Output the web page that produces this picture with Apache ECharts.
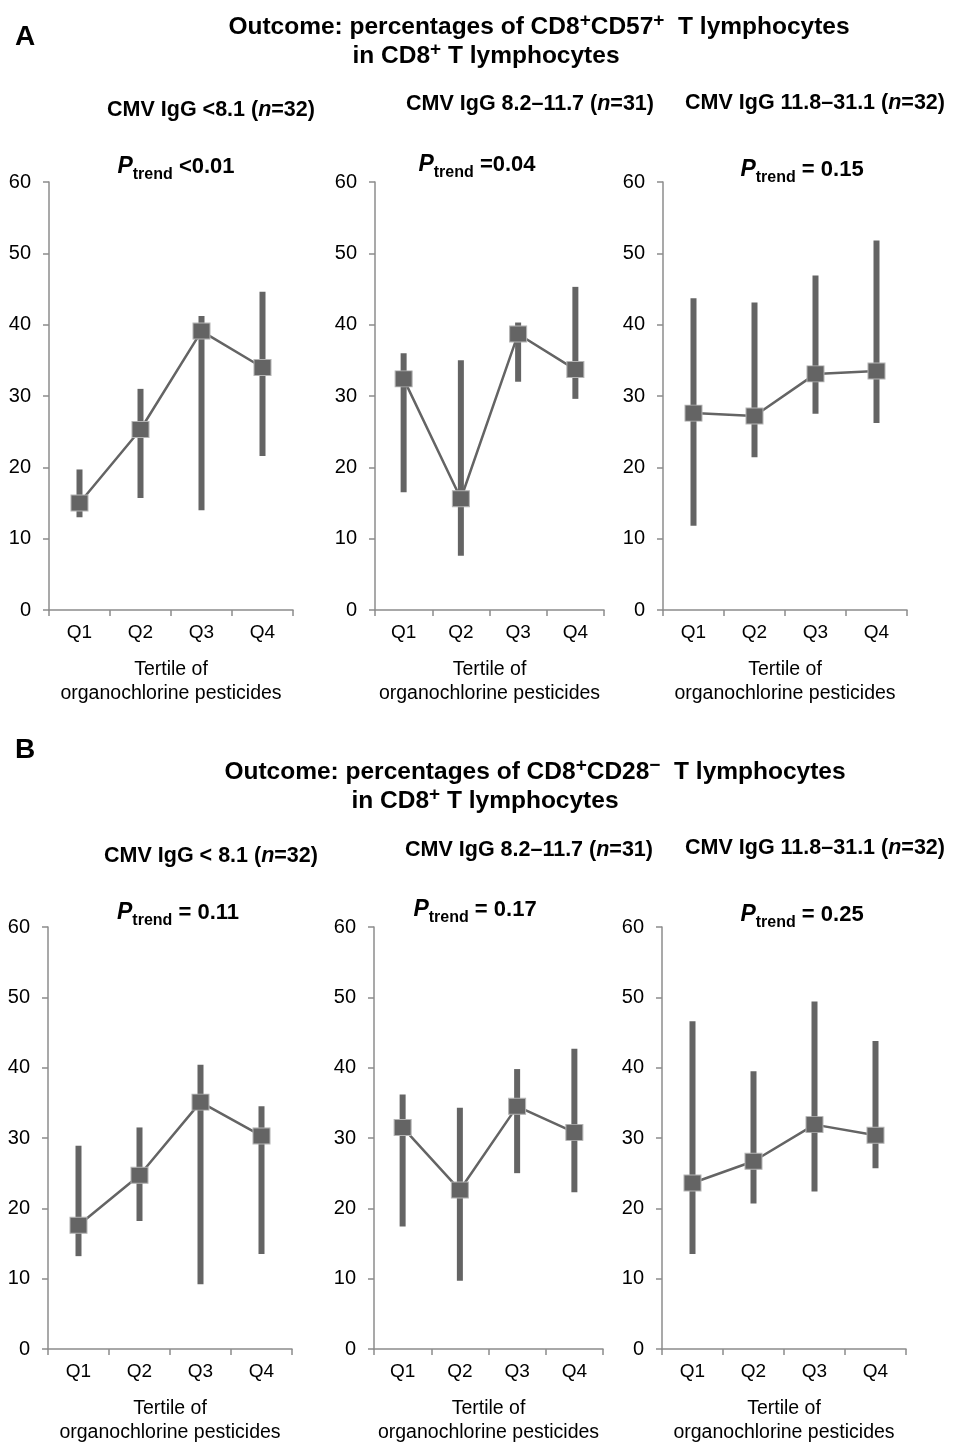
<!DOCTYPE html>
<html style="height: 100%">
<head>
<meta charset="utf-8">
</head>
<body style="height: 100%; margin: 0; background: #fff">
	<div id="container" style="width: 953px; height: 1446px"></div>
	<script type="text/javascript" src="https://cdn.jsdelivr.net/npm/echarts/dist/echarts.min.js"></script>
	<script type="text/javascript">
		// categories and tick range
		var categories = [ 'Q1', 'Q2', 'Q3', 'Q4' ];
		var yMin = 0, yMax = 60, yStep = 10;

		// panel A: CD8+CD57+ (mean, lower, upper)
		var a1Mean = [ 15.0, 25.3, 39.1, 34.0 ];
		var a1Low = [ 13.0, 15.7, 14.0, 21.6 ];
		var a1High = [ 19.7, 31.0, 41.2, 44.6 ];
		var a2Mean = [ 32.4, 15.6, 38.7, 33.7 ];
		var a2Low = [ 16.5, 7.6, 32.0, 29.6 ];
		var a2High = [ 36.0, 35.0, 40.3, 45.3 ];
		var a3Mean = [ 27.6, 27.2, 33.1, 33.5 ];
		var a3Low = [ 11.8, 21.4, 27.5, 26.2 ];
		var a3High = [ 43.7, 43.1, 46.9, 51.8 ];

		// panel B: CD8+CD28-
		var b1Mean = [ 17.6, 24.7, 35.1, 30.3 ];
		var b1Low = [ 13.2, 18.2, 9.2, 13.5 ];
		var b1High = [ 28.9, 31.5, 40.4, 34.5 ];
		var b2Mean = [ 31.5, 22.6, 34.5, 30.8 ];
		var b2Low = [ 17.4, 9.7, 25.0, 22.3 ];
		var b2High = [ 36.2, 34.3, 39.8, 42.7 ];
		var b3Mean = [ 23.6, 26.7, 31.9, 30.4 ];
		var b3Low = [ 13.5, 20.7, 22.4, 25.7 ];
		var b3High = [ 46.6, 39.5, 49.4, 43.8 ];

		var FONT = 'Liberation Sans, Arial, sans-serif';
		var INK = '#646464';
		var AXIS = '#8c8c8c';

		var panels = [
			{ mean: a1Mean, low: a1Low, high: a1High, left: 49, top: 182, width: 244 },
			{ mean: a2Mean, low: a2Low, high: a2High, left: 375, top: 182, width: 229 },
			{ mean: a3Mean, low: a3Low, high: a3High, left: 663, top: 182, width: 244 },
			{ mean: b1Mean, low: b1Low, high: b1High, left: 48, top: 927, width: 244 },
			{ mean: b2Mean, low: b2Low, high: b2High, left: 374, top: 927, width: 229 },
			{ mean: b3Mean, low: b3Low, high: b3High, left: 662, top: 927, width: 244 }
		];

		var grids = [], xAxes = [], yAxes = [], series = [];
		panels.forEach(function(p, i) {
			grids.push({ left: p.left, top: p.top, width: p.width, height: 428 });
			xAxes.push({
				type: 'category', gridIndex: i, data: categories,
				axisLine: { lineStyle: { color: AXIS, width: 1.5 } },
				axisTick: { show: true, length: 6, lineStyle: { color: AXIS, width: 1.5 } },
				axisLabel: { color: '#000', fontSize: 19, fontFamily: FONT, margin: 13 },
				name: 'Tertile of\norganochlorine pesticides',
				nameLocation: 'middle', nameGap: 48,
				nameTextStyle: { color: '#000', fontSize: 19.5, fontFamily: FONT, lineHeight: 24 }
			});
			yAxes.push({
				type: 'value', gridIndex: i, min: yMin, max: yMax, interval: yStep,
				splitLine: { show: false },
				axisLine: { show: true, lineStyle: { color: AXIS, width: 1.5 } },
				axisTick: { show: true, length: 6, lineStyle: { color: AXIS, width: 1.5 } },
				axisLabel: { color: '#000', fontSize: 20, fontFamily: FONT, margin: 18 }
			});
			var ranges = p.low.map(function(v, k) { return [ k, v, p.high[k] ]; });
			series.push({
				type: 'custom', xAxisIndex: i, yAxisIndex: i, data: ranges,
				encode: { x: 0, y: [ 1, 2 ] }, silent: true,
				renderItem: function(params, api) {
					var lo = api.coord([ api.value(0), api.value(1) ]);
					var hi = api.coord([ api.value(0), api.value(2) ]);
					return {
						type: 'rect',
						shape: { x: lo[0] - 3, y: hi[1], width: 6, height: lo[1] - hi[1] },
						style: { fill: INK }
					};
				}
			});
			series.push({
				type: 'line', xAxisIndex: i, yAxisIndex: i, data: p.mean,
				symbol: 'rect', symbolSize: [ 17, 16 ], z: 5,
				lineStyle: { color: INK, width: 2.5 },
				itemStyle: { color: INK, borderColor: '#b4b4b4', borderWidth: 1 }
			});
		});

		function txt(x, y, text, rich) {
			return { type: 'text', x: x, y: y, silent: true,
				style: { text: text, align: 'center', verticalAlign: 'middle', rich: rich } };
		}
		function tok(size, extra) {
			var o = { fontSize: size, fontFamily: FONT, fontWeight: 'bold', fill: '#000' };
			for (var k in extra) o[k] = extra[k];
			return o;
		}
		var titleRich = {
			b: tok(24.5, { lineHeight: 32 }),
			s: tok(19, { verticalAlign: 'top', lineHeight: 17 })
		};
		var subRich = {
			b: tok(21.5, { lineHeight: 28 }),
			i: tok(21.5, { lineHeight: 28, fontStyle: 'italic' })
		};
		var pRich = {
			p: tok(23, { lineHeight: 32, fontStyle: 'italic' }),
			t: tok(16, { verticalAlign: 'bottom', lineHeight: 16 }),
			b: tok(22, { lineHeight: 32 })
		};
		function sub(label, n) { return '{b|CMV IgG ' + label + ' (}{i|n}{b|=' + n + ')}'; }
		function ptr(v) { return '{p|P}{t|trend}{b|' + v + '}'; }

		var graphics = [
			txt(25, 37, '{L|A}', { L: tok(28) }),
			txt(539, 27, '{b|Outcome: percentages of CD8}{s|+}{b|CD57}{s|+}{b|  T lymphocytes}', titleRich),
			txt(486, 56, '{b|in CD8}{s|+}{b| T lymphocytes}', titleRich),
			txt(211, 110, sub('<8.1', 32), subRich),
			txt(530, 104, sub('8.2–11.7', 31), subRich),
			txt(815, 103, sub('11.8–31.1', 32), subRich),
			txt(176, 167, ptr(' <0.01'), pRich),
			txt(477, 165, ptr(' =0.04'), pRich),
			txt(802, 170, ptr(' = 0.15'), pRich),
			txt(25, 750, '{L|B}', { L: tok(28) }),
			txt(535, 772, '{b|Outcome: percentages of CD8}{s|+}{b|CD28}{s|−}{b|  T lymphocytes}', titleRich),
			txt(485, 801, '{b|in CD8}{s|+}{b| T lymphocytes}', titleRich),
			txt(211, 856, sub('< 8.1', 32), subRich),
			txt(529, 850, sub('8.2–11.7', 31), subRich),
			txt(815, 848, sub('11.8–31.1', 32), subRich),
			txt(178, 913, ptr(' = 0.11'), pRich),
			txt(475, 910, ptr(' = 0.17'), pRich),
			txt(802, 915, ptr(' = 0.25'), pRich)
		];

		var myChart = echarts.init(document.getElementById('container'));
		myChart.setOption({
			animation: false,
			backgroundColor: '#fff',
			grid: grids,
			xAxis: xAxes,
			yAxis: yAxes,
			series: series,
			graphic: graphics
		});
	</script>
</body>
</html>
